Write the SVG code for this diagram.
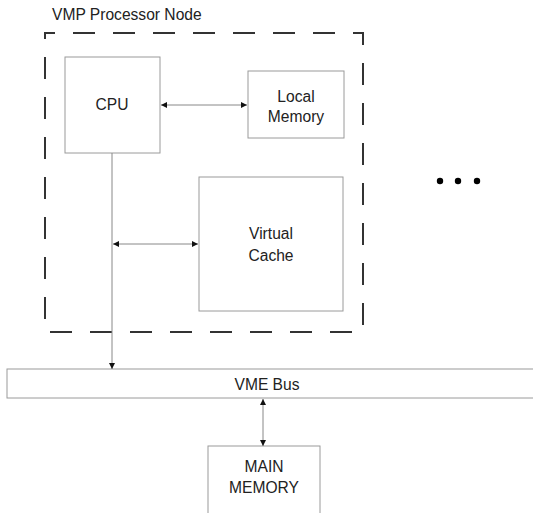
<svg xmlns="http://www.w3.org/2000/svg" width="533" height="513" viewBox="0 0 533 513">
<style>
.box{fill:#fff;stroke:#9a9a9a;stroke-width:1}
.t{font-family:"Liberation Sans",Arial,sans-serif;font-size:15.6px;fill:#222;text-anchor:middle}
.c{stroke:#888;stroke-width:1;fill:none}
</style>
<defs>
<marker id="ah" viewBox="0 0 10 10" refX="10" refY="5" markerWidth="9" markerHeight="6" markerUnits="userSpaceOnUse" orient="auto-start-reverse">
<path d="M0,0 L10,5 L0,10 z" fill="#111"/>
</marker>
</defs>
<rect width="533" height="513" fill="#fff"/>
<g id="processor-node">
<rect x="45" y="33" width="318" height="299" fill="none" stroke="#333" stroke-width="2" stroke-dasharray="22,18" stroke-dashoffset="12"/>
<text x="52" y="20" style="font-family:'Liberation Sans',Arial,sans-serif;font-size:15.6px;fill:#222">VMP Processor Node</text>
</g>
<g id="cpu">
<rect class="box" x="65" y="57" width="95" height="96"/>
<text class="t" x="112" y="110">CPU</text>
</g>
<g id="local-memory">
<rect class="box" x="248" y="71" width="96" height="67"/>
<text class="t" x="296" y="102">Local</text>
<text class="t" x="296" y="122">Memory</text>
</g>
<g id="virtual-cache">
<rect class="box" x="199" y="177" width="144" height="134"/>
<text class="t" x="271" y="239">Virtual</text>
<text class="t" x="271" y="261">Cache</text>
</g>
<g id="vme-bus">
<rect class="box" x="7" y="369" width="540" height="29"/>
<text class="t" x="267" y="390">VME Bus</text>
</g>
<g id="main-memory">
<rect class="box" x="208" y="446" width="112" height="80"/>
<text class="t" x="264" y="472">MAIN</text>
<text class="t" x="264" y="493">MEMORY</text>
</g>
<g id="more">
<circle cx="440" cy="181" r="3.2" fill="#000"/>
<circle cx="458" cy="181" r="3.2" fill="#000"/>
<circle cx="477" cy="181" r="3.2" fill="#000"/>
</g>
<g id="connectors">
<line class="c" x1="161" y1="105" x2="247" y2="105" marker-start="url(#ah)" marker-end="url(#ah)"/>
<line class="c" x1="112" y1="153" x2="112" y2="369" marker-end="url(#ah)"/>
<line class="c" x1="113" y1="244" x2="198" y2="244" marker-start="url(#ah)" marker-end="url(#ah)"/>
<line class="c" x1="263" y1="399" x2="263" y2="446" marker-start="url(#ah)" marker-end="url(#ah)"/>
</g>
</svg>
